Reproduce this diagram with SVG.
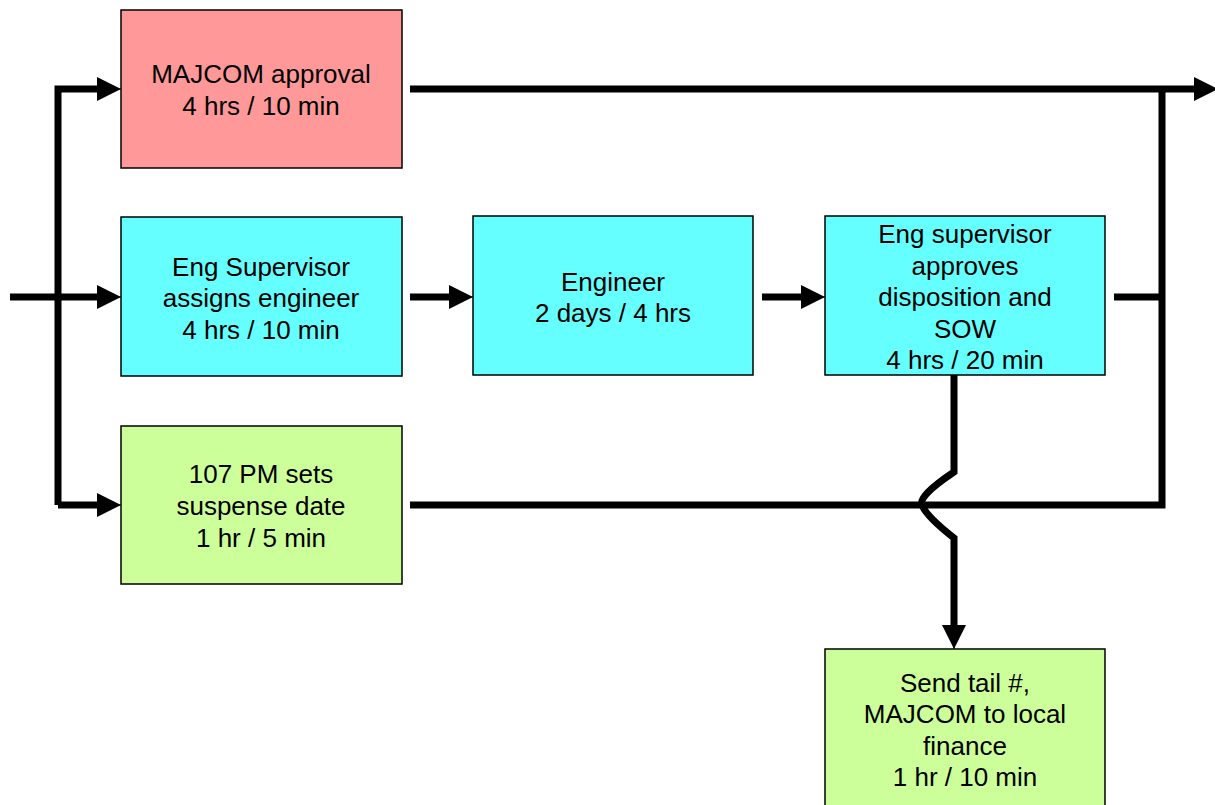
<svg xmlns="http://www.w3.org/2000/svg" width="1215" height="805" viewBox="0 0 1215 805">
<defs>
<style>
.box{stroke:#000;stroke-width:1.5}
.red{fill:#FF9999}.cyan{fill:#66FFFF}.green{fill:#CCFF99}
text{font-family:"Liberation Sans",Arial,sans-serif;font-size:26px;fill:#000;text-anchor:middle}
.ln{fill:none;stroke:#000;stroke-width:7}
</style>
<marker id="ah" viewBox="0 0 10 10" refX="10" refY="5" markerUnits="userSpaceOnUse" markerWidth="24" markerHeight="24" orient="auto">
<path d="M0,0 L10,5 L0,10 Z" fill="#000"/>
</marker>
</defs>
<rect width="1215" height="805" fill="#fff"/>
<g id="connectors">
<path class="ln" d="M58,505 L58,89 L100,89"/>
<path class="ln" d="M10,297 L100,297"/>
<path class="ln" d="M58,505 L100,505"/>
<path class="ln" d="M410,297 L452,297"/>
<path class="ln" d="M762,297 L804,297"/>
<path class="ln" d="M410,89 L1195,89"/>
<path class="ln" d="M1114,297 L1162,297"/>
<path class="ln" d="M410,505 L1162,505 L1162,89"/>
<path class="ln" d="M954,375 L954,472 Q918,496 922,505 Q926,516 954,538 L954,628"/>
<line x1="95" y1="89" x2="121" y2="89" stroke="#000" stroke-width="1" marker-end="url(#ah)"/>
<line x1="95" y1="297" x2="121" y2="297" stroke="#000" stroke-width="1" marker-end="url(#ah)"/>
<line x1="95" y1="505" x2="121" y2="505" stroke="#000" stroke-width="1" marker-end="url(#ah)"/>
<line x1="447" y1="297" x2="473" y2="297" stroke="#000" stroke-width="1" marker-end="url(#ah)"/>
<line x1="799" y1="297" x2="825" y2="297" stroke="#000" stroke-width="1" marker-end="url(#ah)"/>
<line x1="1190" y1="89" x2="1218" y2="89" stroke="#000" stroke-width="1" marker-end="url(#ah)"/>
<line x1="954" y1="623" x2="954" y2="649" stroke="#000" stroke-width="1" marker-end="url(#ah)"/>
</g>
<g id="majcom">
<rect class="box red" x="121" y="10" width="281" height="158"/>
<text x="261" y="83">MAJCOM approval</text>
<text x="261" y="115">4 hrs / 10 min</text>
</g>
<g id="engsup">
<rect class="box cyan" x="121" y="217" width="281" height="159"/>
<text x="261" y="276">Eng Supervisor</text>
<text x="261" y="307">assigns engineer</text>
<text x="261" y="339">4 hrs / 10 min</text>
</g>
<g id="engineer">
<rect class="box cyan" x="473" y="216" width="280" height="159"/>
<text x="613" y="291">Engineer</text>
<text x="613" y="322">2 days / 4 hrs</text>
</g>
<g id="approves">
<rect class="box cyan" x="825" y="216" width="280" height="159"/>
<text x="965" y="243">Eng supervisor</text>
<text x="965" y="275">approves</text>
<text x="965" y="306">disposition and</text>
<text x="965" y="338">SOW</text>
<text x="965" y="369">4 hrs / 20 min</text>
</g>
<g id="pm107">
<rect class="box green" x="121" y="426" width="281" height="158"/>
<text x="261" y="483">107 PM sets</text>
<text x="261" y="515">suspense date</text>
<text x="261" y="547">1 hr / 5 min</text>
</g>
<g id="sendtail">
<rect class="box green" x="825" y="649" width="280" height="170"/>
<text x="965" y="692">Send tail #,</text>
<text x="965" y="723">MAJCOM to local</text>
<text x="965" y="755">finance</text>
<text x="965" y="786">1 hr / 10 min</text>
</g>
</svg>
